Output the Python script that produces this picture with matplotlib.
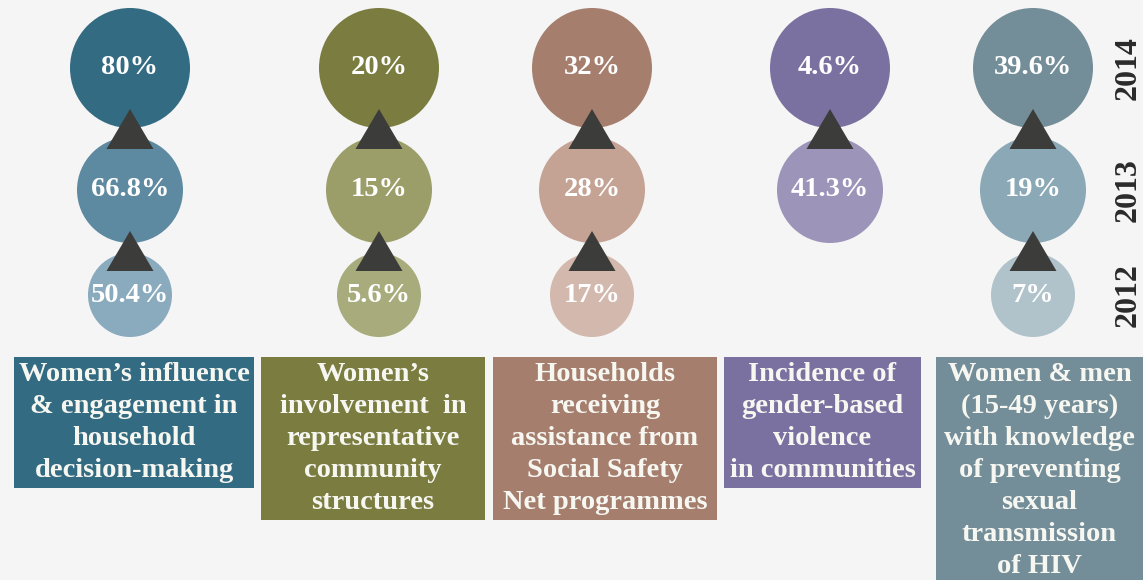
import matplotlib.pyplot as plt
from matplotlib.patches import Circle, Polygon, Rectangle

# --- data -----------------------------------------------------------------
YEARS = [2014, 2013, 2012]

INDICATORS = [
    "Women\u2019s influence\n& engagement in\nhousehold\ndecision-making",
    "Women\u2019s\ninvolvement  in\nrepresentative\ncommunity\nstructures",
    "Households\nreceiving\nassistance from\nSocial Safety\nNet programmes",
    "Incidence of\ngender-based\nviolence\nin communities",
    "Women & men\n(15-49 years)\nwith knowledge\nof preventing\nsexual\ntransmission\nof HIV",
]

# values per indicator, ordered 2014, 2013, 2012 (None = not reported)
VALUES_2014 = ["80%", "20%", "32%", "4.6%", "39.6%"]
VALUES_2013 = ["66.8%", "15%", "28%", "41.3%", "19%"]
VALUES_2012 = ["50.4%", "5.6%", "17%", None, "7%"]

# --- style ----------------------------------------------------------------
BG = "#f5f5f5"
ARROW = "#3c3c3a"
SHADES = [  # dark (2014), mid (2013), light (2012)
    ["#336b82", "#5d8aa0", "#8aaabe"],
    ["#7a7c40", "#9c9e6a", "#a8ab7b"],
    ["#a57e6d", "#c4a294", "#d3b8ad"],
    ["#7b71a0", "#9d94ba", "#b8b2cc"],
    ["#748e99", "#8aa8b5", "#b0c3cb"],
]

COL_X = [130, 379, 592, 830, 1033]
ROW_Y = {2014: 68, 2013: 190, 2012: 295}
RADIUS = {2014: 60, 2013: 53, 2012: 42}
BOXES = [(14, 254), (261, 485), (493, 717), (724, 921), (936, 1143)]
BOX_TOP = 357
LINE_H = 32

FONT = ["Liberation Serif", "DejaVu Serif"]

fig = plt.figure(figsize=(11.43, 5.8), dpi=100, facecolor=BG)
ax = fig.add_axes([0, 0, 1, 1])
ax.set_xlim(0, 1143)
ax.set_ylim(580, 0)
ax.set_aspect("equal")
ax.axis("off")
ax.set_facecolor(BG)

series = {2014: VALUES_2014, 2013: VALUES_2013, 2012: VALUES_2012}

for i, x in enumerate(COL_X):
    # circles
    for k, year in enumerate(YEARS):
        val = series[year][i]
        if val is None:
            continue
        y = ROW_Y[year]
        ax.add_patch(Circle((x, y), RADIUS[year], color=SHADES[i][k], lw=0, zorder=1))
        ax.text(x, y, val, ha="center", va="center", color="white",
                fontsize=20.5, fontweight="bold", family=FONT, zorder=4)

    # arrows between consecutive years
    for upper, lower in zip(YEARS[:-1], YEARS[1:]):
        if series[upper][i] is None or series[lower][i] is None:
            continue
        apex = ROW_Y[upper] + 41
        base = apex + 40
        ax.add_patch(Polygon([(x, apex), (x - 23.5, base), (x + 23.5, base)],
                             closed=True, color=ARROW, lw=0, zorder=3))

    # label box
    lines = INDICATORS[i].split("\n")
    x0, x1 = BOXES[i]
    h = len(lines) * LINE_H + 3
    ax.add_patch(Rectangle((x0, BOX_TOP), x1 - x0, h, color=SHADES[i][0], lw=0, zorder=1))
    for j, line in enumerate(lines):
        ax.text((x0 + x1) / 2, BOX_TOP + 17.5 + j * LINE_H, line, ha="center", va="center",
                color="#f7f7f2", fontsize=20.5, fontweight="bold", family=FONT, zorder=4)

# year labels on the right
for year in YEARS:
    ax.text(1128, ROW_Y[year], str(year), rotation=90, ha="center", va="center",
            color="#2a2a2a", fontsize=23, fontweight="bold", family=FONT)

fig.savefig("out.png", dpi=100, facecolor=BG)
